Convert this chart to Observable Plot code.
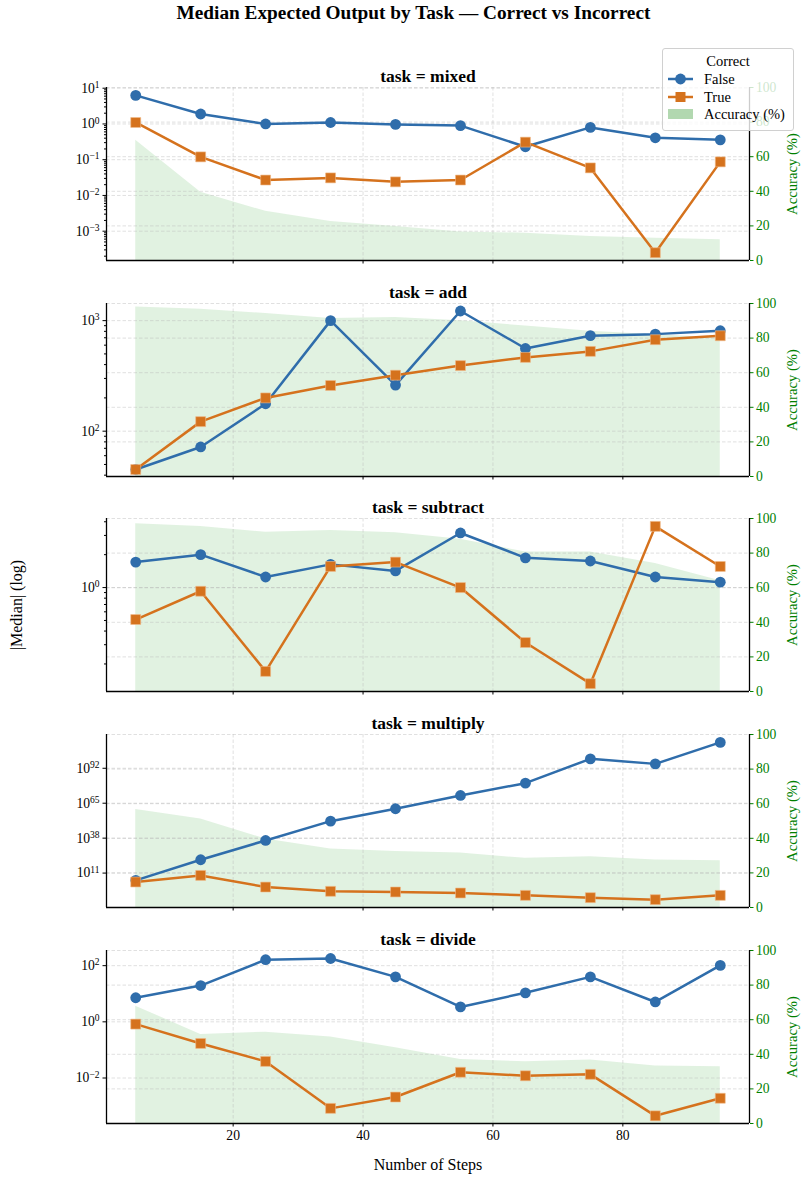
<!DOCTYPE html>
<html>
<head>
<meta charset="utf-8">
<script src="https://cdn.jsdelivr.net/npm/d3@7"></script>
<script src="https://cdn.jsdelivr.net/npm/@observablehq/plot@0.6"></script>
<style>
  body { margin: 0; background: #fff; font-family: "Liberation Serif", serif; }
  #root { position: relative; width: 807px; height: 1178px; overflow: hidden; background: #fff; }
  #root > svg, #root > div { position: absolute; left: 0; }
  .title { width: 807px; text-align: center; font-weight: bold; font-size: 19.3px; }
</style>
</head>
<body>
<div id="root"></div>
<script>
// ---------- data ----------
const steps = [5, 15, 25, 35, 45, 55, 65, 75, 85, 95];
const tasks = ["mixed", "add", "subtract", "multiply", "divide"];

const falseMixed = [6.3, 1.9, 1.0, 1.1, 0.97, 0.9, 0.23, 0.8, 0.41, 0.36];
const trueMixed  = [1.1, 0.12, 0.027, 0.031, 0.024, 0.027, 0.31, 0.059, 0.00025, 0.087];
const accMixed   = [69.5, 39.5, 28.4, 22.6, 19.7, 16.5, 15.8, 13.9, 12.9, 12];

const falseAdd = [45, 72, 177, 1000, 261, 1222, 560, 731, 755, 810];
const trueAdd  = [45, 122, 200, 259, 321, 392, 465, 527, 672, 730];
const accAdd   = [98, 96.7, 94.2, 91.3, 91.9, 90, 87, 84, 82, 80];

const falseSubtract = [1.71, 2.0, 1.25, 1.63, 1.42, 3.16, 1.87, 1.75, 1.25, 1.12];
const trueSubtract  = [0.51, 0.925, 0.171, 1.56, 1.71, 1.0, 0.314, 0.132, 3.63, 1.56];
const accSubtract   = [97, 95.4, 92, 93, 91.8, 88, 80.6, 80.6, 74, 64];

const falseMultiply = [2.5e5, 2e21, 1.6e36, 1.3e51, 5e60, 1e71, 3e80, 2e99, 2.5e95, 1e112];
const trueMultiply  = [1.3e4, 1.6e9, 1.6, 8e-4, 2.5e-4, 4e-5, 6e-7, 1e-8, 3e-10, 6e-7];
const accMultiply   = [56.6, 51.2, 39.6, 33.8, 32.4, 31.5, 28.4, 29.4, 27.4, 27];

const falseDivide = [7.2, 19.6, 163, 180, 40, 3.4, 10.8, 40, 5.1, 102];
const trueDivide  = [0.83, 0.17, 0.039, 0.00083, 0.0021, 0.016, 0.012, 0.0135, 0.00045, 0.0019];
const accDivide   = [67.8, 51.5, 52.8, 50, 43.8, 37, 35.7, 36.7, 33.2, 32.8];

// major tick exponents of the left log axis per task
const expMixed = [-3, -2, -1, 0, 1];
const expAdd = [2, 3];
const expSubtract = [0];
const expMultiply = [11, 38, 65, 92];
const expDivide = [-2, 0, 2];

// log-axis extents (exponents) per task
const extMixed = [-3.82, 1.02];
const extAdd = [1.59, 3.155];
const extSubtract = [-0.951, 0.632];
const extMultiply = [-15.6, 118.1];
const extDivide = [-3.62, 2.54];

const accTicks = [0, 20, 40, 60, 80, 100];
const stepTicks = [20, 40, 60, 80];
const stepExtent = [0.5, 99.5];

const seriesNames = ["False", "True"];
const legendTitle = "Correct";
const accLabel = "Accuracy (%)";

// ---------- styling ----------
const BLUE = "#2f6dab";
const ORANGE = "#d5721d";
const GREEN = "#2ca02c";
const FONT = "'Liberation Serif', 'Times New Roman', serif";
const W = 807, ML = 106, MR = 58, MT = 30, MB = 55;
const AXH = 173;
const axTops = [86.7, 302.5, 518.3, 734, 949.5];

const cfg = {
  mixed:    {f: falseMixed, t: trueMixed, a: accMixed, exps: expMixed, ext: extMixed, minor: true},
  add:      {f: falseAdd, t: trueAdd, a: accAdd, exps: expAdd, ext: extAdd, minor: true},
  subtract: {f: falseSubtract, t: trueSubtract, a: accSubtract, exps: expSubtract, ext: extSubtract, minor: true},
  multiply: {f: falseMultiply, t: trueMultiply, a: accMultiply, exps: expMultiply, ext: extMultiply, minor: false},
  divide:   {f: falseDivide, t: trueDivide, a: accDivide, exps: expDivide, ext: extDivide, minor: false}
};

const root = document.getElementById("root");

const title = document.createElement("div");
title.className = "title";
title.style.top = "2px";
title.style.left = "10px";
title.textContent = "Median Expected Output by Task \u2014 Correct vs Incorrect";
root.appendChild(title);

function superscript(svg) {
  svg.querySelectorAll("text").forEach(t => {
    const m = /^10\^(-?\d+)$/.exec(t.textContent);
    if (!m) return;
    while (t.firstChild) t.removeChild(t.firstChild);
    t.appendChild(document.createTextNode("10"));
    const ts = document.createElementNS("http://www.w3.org/2000/svg", "tspan");
    ts.setAttribute("dy", "-0.5em");
    ts.setAttribute("font-size", "0.7em");
    ts.textContent = m[1].replace("-", "\u2212");
    t.appendChild(ts);
  });
}

function fixFonts(svg, labelSize) {
  svg.querySelectorAll("text").forEach(t => {
    const g = t.closest("g[aria-label]");
    const lab = g ? g.getAttribute("aria-label") : "";
    t.style.fontFamily = FONT;
    if (/tick label/.test(lab)) t.style.fontSize = "13.6px";
    else if (/axis label/.test(lab)) t.style.fontSize = labelSize;
  });
}

const gridStyle = {stroke: "#b8b8b8", strokeOpacity: 0.55, strokeDasharray: "3.5,2", strokeWidth: 0.8};

tasks.forEach((task, i) => {
  const c = cfg[task];
  const last = i === tasks.length - 1;
  const H = MT + AXH + MB;
  const yDomain = [Math.pow(10, c.ext[0]), Math.pow(10, c.ext[1])];
  const majors = c.exps.map(e => Math.pow(10, e));
  const minors = [];
  if (c.minor) {
    for (let k = Math.floor(c.ext[0]) - 1; k <= Math.ceil(c.ext[1]); k++) {
      for (let m = 2; m <= 9; m++) {
        const v = m * Math.pow(10, k);
        if (v >= yDomain[0] && v <= yDomain[1]) minors.push(v);
      }
    }
  }
  const accRows = steps.map((s, j) => ({step: s, acc: c.a[j]}));
  const fRows = steps.map((s, j) => ({step: s, value: c.f[j]}));
  const tRows = steps.map((s, j) => ({step: s, value: c.t[j]}));

  const common = {
    width: W, height: H, marginLeft: ML, marginRight: MR, marginTop: MT, marginBottom: MB,
    style: {fontFamily: FONT, fontSize: "13.6px", background: "transparent", overflow: "visible", color: "black"}
  };

  // back layer: accuracy (right axis)
  const back = Plot.plot({
    ...common,
    x: {domain: stepExtent, axis: null},
    y: {domain: [0, 100]},
    marks: [
      Plot.areaY(accRows, {x: "step", y: "acc", fill: GREEN, fillOpacity: 0.14}),
      Plot.gridX({ticks: stepTicks, ...gridStyle}),
      Plot.gridY({ticks: accTicks, ...gridStyle}),
      Plot.axisY({anchor: "right", ticks: accTicks, tickSize: 3.5, tickPadding: 3, color: "green",
        label: accLabel, labelAnchor: "center", labelOffset: 47, labelArrow: "none"})
    ]
  });

  // front layer: medians (left log axis)
  const front = Plot.plot({
    ...common,
    x: {domain: stepExtent},
    y: {type: "log", domain: yDomain},
    marks: [
      Plot.gridY({ticks: majors, ...gridStyle}),
      Plot.line(fRows, {x: "step", y: "value", stroke: BLUE, strokeWidth: 2.5}),
      Plot.line(tRows, {x: "step", y: "value", stroke: ORANGE, strokeWidth: 2.5}),
      Plot.dot(fRows, {x: "step", y: "value", symbol: "circle", r: 5.4, fill: BLUE}),
      Plot.dot(tRows, {x: "step", y: "value", symbol: "square", r: 5.6, fill: ORANGE, stroke: "#f0b888", strokeWidth: 0.6}),
      Plot.axisY({anchor: "left", ticks: majors, tickSize: 3.5, tickPadding: 3.5, color: "black",
        tickFormat: d => "10^" + Math.round(Math.log10(d)),
        label: task === "subtract" ? "|Median| (log)" : null,
        labelAnchor: "center", labelOffset: 96, labelArrow: "none"}),
      minors.length ? Plot.axisY({anchor: "left", ticks: minors, tickSize: 2, tickFormat: () => "", label: null, color: "black"}) : null,
      Plot.axisX({ticks: stepTicks, tickSize: 3.5, tickPadding: 3, color: "black",
        tickFormat: last ? (d => String(d)) : (() => ""),
        label: last ? "Number of Steps" : null, labelAnchor: "center", labelOffset: 46, labelArrow: "none"}),
      Plot.ruleY([yDomain[0]], {stroke: "black", strokeWidth: 1.3}),
      Plot.ruleX([stepExtent[0]], {stroke: "black", strokeWidth: 1.3}),
      Plot.ruleX([stepExtent[1]], {stroke: "black", strokeWidth: 1.3}),
      Plot.text(["task = " + task], {frameAnchor: "top", text: d => d, dy: -6, lineAnchor: "bottom",
        fontWeight: "bold", fontSize: 17.5, fill: "black"})
    ]
  });
  superscript(front);
  fixFonts(front, "16px");
  fixFonts(back, "14.7px");

  const top = (axTops[i] - MT) + "px";
  back.style.top = top;
  front.style.top = top;
  root.appendChild(back);
  root.appendChild(front);
});

// ---------- legend ----------
const lg = d3.select(root).append("svg")
  .attr("width", 132).attr("height", 84)
  .style("left", "662px").style("top", "48px")
  .style("font-family", FONT).style("font-size", "14.5px");
lg.append("rect").attr("x", 0.5).attr("y", 0.5).attr("width", 131).attr("height", 82).attr("rx", 2.5)
  .attr("fill", "white").attr("fill-opacity", 0.8).attr("stroke", "#d0d0d0");
lg.append("text").attr("x", 66).attr("y", 18).attr("text-anchor", "middle").text(legendTitle);
const lgColors = [BLUE, ORANGE];
seriesNames.forEach((name, k) => {
  const y = 31 + k * 18;
  lg.append("line").attr("x1", 6).attr("x2", 31).attr("y1", y).attr("y2", y)
    .attr("stroke", lgColors[k]).attr("stroke-width", 2.5);
  if (k === 0) lg.append("circle").attr("cx", 18.5).attr("cy", y).attr("r", 5.4).attr("fill", lgColors[k]);
  else lg.append("rect").attr("x", 13.5).attr("y", y - 5).attr("width", 10).attr("height", 10).attr("fill", lgColors[k]);
  lg.append("text").attr("x", 42).attr("y", y + 5).text(name);
});
lg.append("rect").attr("x", 6).attr("y", 61).attr("width", 25).attr("height", 10).attr("fill", "#b2d8b0");
lg.append("text").attr("x", 42).attr("y", 71).text(accLabel);
</script>
</body>
</html>
